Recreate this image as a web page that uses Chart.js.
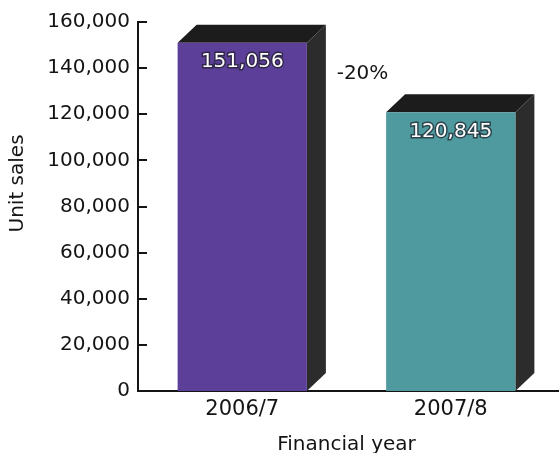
<!DOCTYPE html>
<html>
<head>
<meta charset="utf-8">
<script src="https://cdn.jsdelivr.net/npm/chart.js@4.4.1/dist/chart.umd.min.js"></script>
<style>
  html, body { margin: 0; padding: 0; background: #ffffff; }
  #wrap { width: 559px; height: 453px; position: relative; }
</style>
</head>
<body>
<div id="wrap"><canvas id="c" width="559" height="453"></canvas></div>
<script>
// ---- data ----
const categories = ['2006/7', '2007/8'];
const unitSales = [151056, 120845];
const valueLabels = ['151,056', '120,845'];
const barColors = ['#5b3f98', '#4f9a9f'];
const changeLabel = '-20%';
const yTitle = 'Unit sales';
const xTitle = 'Financial year';
const yMax = 160000;
const yStep = 20000;

const FONT = '"DejaVu Sans", sans-serif';
const INK = '#141414';
const DX = 19, DY = -18;

const threeD = {
  id: 'threeD',
  beforeDatasetsDraw(chart) {
    const ctx = chart.ctx;
    const meta = chart.getDatasetMeta(0);
    ctx.save();
    meta.data.forEach(bar => {
      const L = bar.x - bar.width / 2, R = bar.x + bar.width / 2;
      const T = bar.y, B = bar.base;
      ctx.fillStyle = '#1c1c1c';
      ctx.beginPath();
      ctx.moveTo(L, T); ctx.lineTo(L + DX, T + DY); ctx.lineTo(R + DX, T + DY); ctx.lineTo(R, T);
      ctx.closePath(); ctx.fill();
      ctx.fillStyle = '#2c2c2c';
      ctx.beginPath();
      ctx.moveTo(R, T); ctx.lineTo(R + DX, T + DY); ctx.lineTo(R + DX, B + DY); ctx.lineTo(R, B);
      ctx.closePath(); ctx.fill();
    });
    ctx.restore();
  },
  afterDatasetsDraw(chart) {
    const ctx = chart.ctx;
    const meta = chart.getDatasetMeta(0);
    const ys = chart.scales.y;
    const xs = chart.scales.x;
    ctx.save();
    ctx.font = '20px ' + FONT;
    ctx.textAlign = 'center';
    ctx.textBaseline = 'middle';
    meta.data.forEach((bar, i) => {
      ctx.lineWidth = 3;
      ctx.strokeStyle = 'rgba(30,30,40,0.7)';
      ctx.strokeText(valueLabels[i], bar.x, bar.y + 19);
      ctx.fillStyle = '#ffffff';
      ctx.fillText(valueLabels[i], bar.x, bar.y + 19);
    });
    const mx = (xs.getPixelForValue(0) + xs.getPixelForValue(1)) / 2 + 16;
    ctx.fillStyle = INK;
    ctx.font = '20px ' + FONT;
    ctx.fillText(changeLabel, mx, ys.getPixelForValue(137500));
    ctx.restore();
  },
  afterDraw(chart) {
    const ctx = chart.ctx;
    const ys = chart.scales.y;
    const a = chart.chartArea;
    ctx.save();
    ctx.strokeStyle = INK;
    ctx.lineWidth = 2;
    for (let v = 0; v <= yMax; v += yStep) {
      const y = Math.round(ys.getPixelForValue(v));
      ctx.beginPath(); ctx.moveTo(a.left, y); ctx.lineTo(a.left + 9, y); ctx.stroke();
    }
    const yb = ys.getPixelForValue(0);
    ctx.beginPath(); ctx.moveTo(a.right - 1, yb); ctx.lineTo(chart.width, yb); ctx.stroke();
    ctx.fillStyle = INK;
    ctx.font = '20px ' + FONT;
    ctx.translate(18, ys.getPixelForValue(90000));
    ctx.rotate(-Math.PI / 2);
    ctx.textAlign = 'center';
    ctx.textBaseline = 'middle';
    ctx.fillText(yTitle, 0, 0);
    ctx.restore();
  }
};

new Chart(document.getElementById('c'), {
  type: 'bar',
  data: {
    labels: categories,
    datasets: [{
      data: unitSales,
      backgroundColor: barColors,
      borderWidth: 0,
      barPercentage: 0.62,
      categoryPercentage: 1.0
    }]
  },
  options: {
    responsive: false,
    animation: false,
    devicePixelRatio: 1,
    layout: { padding: { top: 22, right: 4, left: 0, bottom: 0 } },
    plugins: { legend: { display: false }, tooltip: { enabled: false } },
    scales: {
      x: {
        grid: { display: false, drawTicks: false },
        border: { display: true, color: INK, width: 2 },
        ticks: { color: INK, font: { family: FONT, size: 21 }, padding: 6 },
        title: { display: true, text: xTitle, color: INK, font: { family: FONT, size: 20, lineHeight: 1.0 }, padding: { top: 0, bottom: -2 } },
        afterFit(scale) { scale.height = 62; }
      },
      y: {
        min: 0, max: yMax,
        grid: { display: false, drawTicks: false },
        border: { display: true, color: INK, width: 2 },
        ticks: {
          stepSize: yStep,
          color: INK,
          font: { family: FONT, size: 20 },
          padding: 8,
          callback: v => v.toLocaleString('en-US')
        },
        afterFit(scale) { scale.width = 138; }
      }
    }
  },
  plugins: [threeD]
});
</script>
</body>
</html>
